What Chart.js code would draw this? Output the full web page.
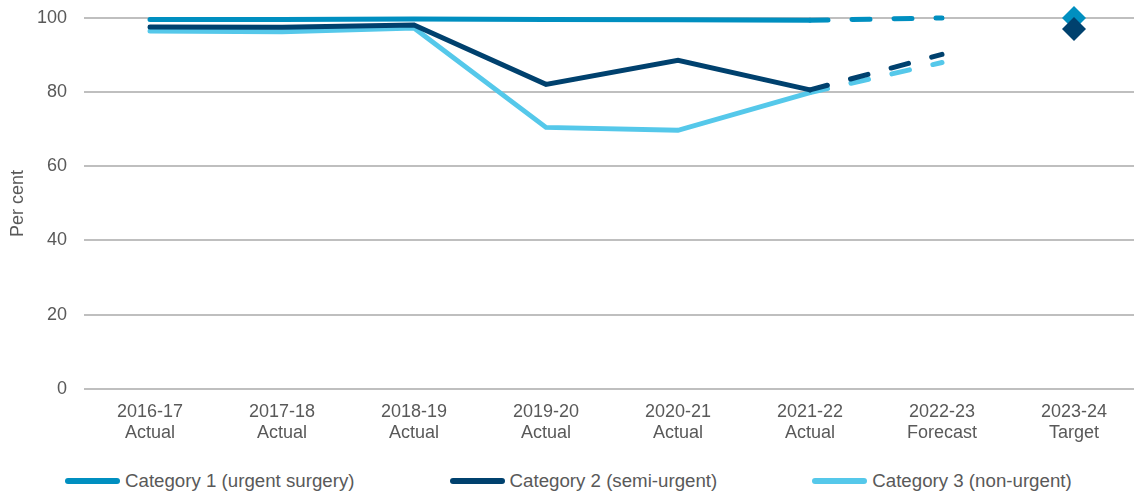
<!DOCTYPE html>
<html>
<head>
<meta charset="utf-8">
<script src="https://cdn.jsdelivr.net/npm/chart.js@4/dist/chart.umd.min.js"></script>
<style>
  body { margin: 0; background: #fff; font-family: "Liberation Sans", Arial, sans-serif; }
  #wrap { position: relative; width: 1134px; height: 495px; overflow: hidden; }
  #chartBox { position: absolute; left: 0; top: 0; width: 1152px; height: 458px; }
  #legend { position: absolute; left: 0; top: 470px; width: 1134px; height: 22px;
            display: flex; justify-content: flex-start; gap: 95px; padding-left: 65px; box-sizing: border-box; }
  .item { display: flex; align-items: center; font-size: 18.7px; color: #595959; white-space: nowrap; }
  .swatch { width: 55px; height: 6px; border-radius: 3px; margin-right: 5px; }
</style>
</head>
<body>
<div id="wrap">
  <div id="chartBox"><canvas id="grafico"></canvas></div>
  <div id="legend"></div>
</div>
<script>
  // Anos e tipo de valor (real, previsão, meta)
  const categorias = [
    ['2016-17', 'Actual'], ['2017-18', 'Actual'], ['2018-19', 'Actual'], ['2019-20', 'Actual'],
    ['2020-21', 'Actual'], ['2021-22', 'Actual'], ['2022-23', 'Forecast'], ['2023-24', 'Target']
  ];
  const nomesSeries = ['Category 1 (urgent surgery)', 'Category 2 (semi-urgent)', 'Category 3 (non-urgent)'];
  const cat1 = [99.6, 99.6, 99.7, 99.6, 99.5, 99.4, 100, 100];
  const cat2 = [97.6, 97.5, 98.1, 82.1, 88.6, 80.6, 90.2, 97];
  const cat3 = [96.5, 96.3, 97.3, 70.5, 69.7, 79.9, 88.0, null];
  const ticksY = [0, 20, 40, 60, 80, 100];
  const cores = ['#008fc0', '#00416e', '#55c8ea'];

  const idxPrevisao = 6;
  const idxMeta = 7;
  const fonte = '"Liberation Sans", Arial';

  function serie(i, valores, ordem) {
    return {
      label: nomesSeries[i],
      data: valores,
      borderColor: cores[i],
      backgroundColor: cores[i],
      borderWidth: 5,
      borderCapStyle: 'round',
      borderJoinStyle: 'miter',
      tension: 0,
      order: ordem,
      clip: false,
      // só a meta aparece como losango
      pointStyle: 'rectRot',
      pointRadius: ctx => ctx.dataIndex === idxMeta ? 12 : 0,
      pointHoverRadius: ctx => ctx.dataIndex === idxMeta ? 12 : 0,
      pointBorderWidth: 0,
      segment: {
        borderDash: ctx => ctx.p1DataIndex === idxPrevisao ? [18, 24] : undefined,
        borderColor: ctx => ctx.p1DataIndex === idxMeta ? 'rgba(0,0,0,0)' : undefined
      }
    };
  }

  const ctx = document.getElementById('grafico').getContext('2d');
  new Chart(ctx, {
    type: 'line',
    data: {
      labels: categorias,
      datasets: [serie(0, cat1, 3), serie(1, cat2, 1), serie(2, cat3, 2)]
    },
    options: {
      responsive: true,
      maintainAspectRatio: false,
      animation: false,
      layout: { padding: { top: 0, right: 0, bottom: 10, left: 7 } },
      plugins: {
        legend: { display: false },
        tooltip: { enabled: false }
      },
      scales: {
        x: {
          offset: true,
          grid: { display: false },
          border: { display: false },
          ticks: {
            color: '#595959',
            font: { family: fonte, size: 18 },
            maxRotation: 0,
            padding: 4
          }
        },
        y: {
          min: 0,
          max: 100,
          afterBuildTicks: axis => { axis.ticks = ticksY.map(v => ({ value: v })); },
          // largura fixa do eixo e margem de cima
          afterFit: axis => { axis.width = 77; axis.paddingTop = 18; },
          grid: { color: '#bfbfbf', lineWidth: 2, drawTicks: false },
          border: { display: false },
          ticks: {
            color: '#595959',
            font: { family: fonte, size: 18 },
            padding: 17
          },
          title: {
            display: true,
            text: 'Per cent',
            color: '#595959',
            font: { family: fonte, size: 18 },
            padding: { top: 0, bottom: 0 }
          }
        }
      }
    }
  });

  // Legenda em HTML
  const legenda = document.getElementById('legend');
  nomesSeries.forEach((nome, i) => {
    const item = document.createElement('div');
    item.className = 'item';
    item.innerHTML = '<span class="swatch" style="background:' + cores[i] + '"></span>' + nome;
    legenda.appendChild(item);
  });
</script>
</body>
</html>
